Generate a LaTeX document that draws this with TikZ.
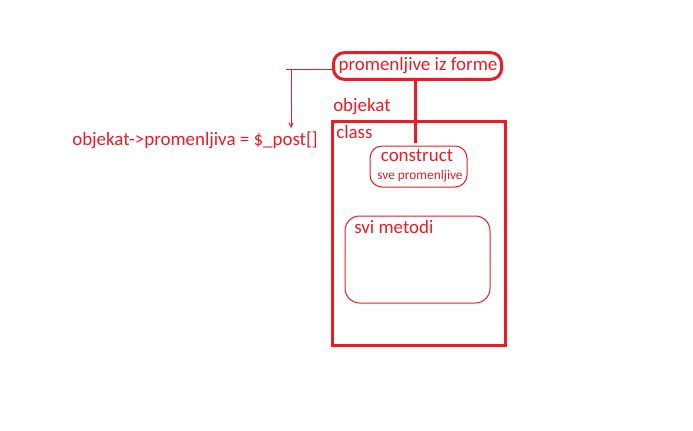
\documentclass[tikz,border=0pt]{standalone}
\usepackage{fontspec}
\setmainfont{Carlito}
\usetikzlibrary{arrows.meta}
\definecolor{pred}{HTML}{ED1C24}
\tikzset{
  lbl/.style={text=pred, font=\fontsize{14.2}{16}\selectfont, inner sep=0pt},
  small/.style={text=pred, font=\fontsize{10}{12}\selectfont, inner sep=0pt},
  thickbox/.style={draw=pred, line width=2.25pt, inner sep=0pt},
  thinbox/.style={draw=pred, line width=0.75pt, inner sep=0pt},
  thickline/.style={draw=pred, line width=2.25pt},
  thinline/.style={draw=pred, line width=0.75pt},
}
\begin{document}
\begin{tikzpicture}[x=0.75pt,y=-0.75pt]
\useasboundingbox (0,0) rectangle (693,430);
% top box
\node[thickbox, rounded corners=8pt, minimum width=126pt, minimum height=20pt] (forme) at (417.5,66) {};
\node[lbl] (formet) at (418,66) {promenljive iz forme};
% main class rectangle
\node[thickbox, minimum width=130pt, minimum height=168pt] (cls) at (419,233) {};
\node[lbl, anchor=west] (obj) at (333,107) {objekat};
\node[lbl, anchor=west] (clst) at (336,132) {class};
% construct box
\node[thinbox, rounded corners=9pt, minimum width=72.75pt, minimum height=30.75pt] (con) at (418.5,166.5) {};
\node[lbl] (cont) at (417,156) {construct};
\node[small] (sve) at (420,176) {sve promenljive};
% methods box
\node[thinbox, rounded corners=11pt, minimum width=108.75pt, minimum height=65.25pt] (met) at (417.5,259.5) {};
\node[lbl, anchor=west] (mett) at (354,227) {svi metodi};
% left text
\node[lbl] (assign) at (195,140) {objekat->promenljiva = \$\_post[]};
% connectors
\coordinate (e1) at (415,143);
\draw[thickline] (forme.south -| e1) -- (e1);
\coordinate (h1) at (286,69);
\coordinate (v1) at (291,69);
\coordinate (v2) at (291,128);
\draw[thinline] (forme.west |- h1) -- (h1);
\draw[thinline, -{Straight Barb[length=3pt,width=3pt]}] (v1) -- (v2);
\end{tikzpicture}
\end{document}
